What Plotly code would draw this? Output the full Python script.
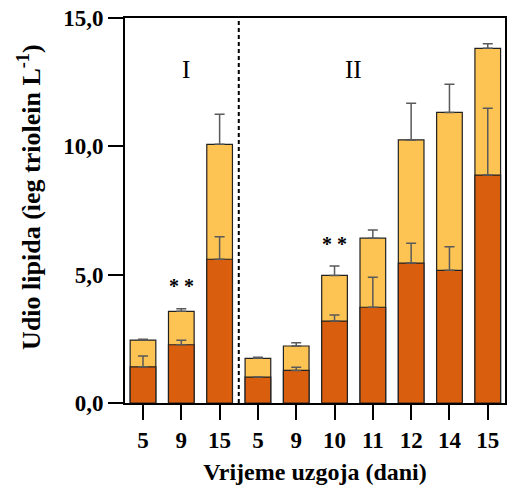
import plotly.graph_objects as go

# Kategorije (dani uzgoja), skupina I i II
dani = ['5', '9', '15', '5', '9', '10', '11', '12', '14', '15']
pozicije = list(range(len(dani)))

# Ukupni udio lipida (svijetli stupci) i pogreška
ukupno = [2.45, 3.57, 10.08, 1.74, 2.22, 4.97, 6.42, 10.25, 11.32, 13.82]
ukupno_err = [0.03, 0.10, 1.17, 0.04, 0.13, 0.37, 0.32, 1.43, 1.10, 0.18]

# Donji dio (tamni stupci) i pogreška
donji = [1.41, 2.27, 5.60, 1.01, 1.27, 3.19, 3.73, 5.45, 5.17, 8.88]
donji_err = [0.42, 0.17, 0.88, 0.0, 0.12, 0.24, 1.17, 0.77, 0.92, 2.60]

nula = [0] * len(dani)

ytick_vals = [0, 5, 10, 15]
ytick_text = ['0,0', '5,0', '10,0', '15,0']

serif = 'Liberation Serif'

fig = go.Figure()

fig.add_trace(go.Bar(
    x=pozicije,
    y=ukupno,
    width=0.67,
    marker=dict(color='#FDC353', line=dict(color='#222222', width=1.2)),
    error_y=dict(type='data', array=ukupno_err, arrayminus=nula, symmetric=False,
                 color='#5a5a5a', thickness=1.5, width=5),
    showlegend=False,
))

fig.add_trace(go.Bar(
    x=pozicije,
    y=donji,
    width=0.67,
    marker=dict(color='#D95F0E', line=dict(color='#222222', width=1.2)),
    error_y=dict(type='data', array=donji_err, arrayminus=nula, symmetric=False,
                 color='#5a5a5a', thickness=1.5, width=5),
    showlegend=False,
))

# isprekidana linija između skupina
fig.add_shape(type='line', xref='x', yref='y', x0=2.5, x1=2.5, y0=0, y1=15,
              line=dict(color='black', width=2, dash='4px,3px'))

fig.add_annotation(x=1.12, y=13.0, text='I', showarrow=False,
                   font=dict(family=serif, size=25, color='black'))
fig.add_annotation(x=5.5, y=13.0, text='II', showarrow=False,
                   font=dict(family=serif, size=25, color='black'))
fig.add_annotation(x=1, y=4.55, text='<b>* *</b>', showarrow=False,
                   font=dict(family=serif, size=20, color='black'))
fig.add_annotation(x=5, y=6.2, text='<b>* *</b>', showarrow=False,
                   font=dict(family=serif, size=20, color='black'))

# naslov osi y kao bilješka (za točniji položaj)
fig.add_annotation(xref='paper', yref='paper', x=-0.253, y=0.535,
                   text='<b>Udio lipida (ìeg triolein L<sup>-1</sup>)</b>',
                   textangle=-90, showarrow=False, xanchor='center', yanchor='middle',
                   font=dict(family=serif, size=26, color='black'))

fig.update_layout(
    width=509,
    height=492,
    barmode='overlay',
    plot_bgcolor='white',
    paper_bgcolor='white',
    font=dict(family=serif, size=20, color='black'),
    margin=dict(l=125, r=2, t=18, b=89),
)

fig.update_xaxes(
    range=[-0.47, 9.45],
    tickmode='array', tickvals=pozicije, ticktext=['<b>%s</b>' % d for d in dani],
    ticks='outside', ticklen=15, tickwidth=2, tickcolor='black',
    showline=True, linecolor='black', linewidth=2, mirror=True,
    showgrid=False, zeroline=False,
    tickfont=dict(family=serif, size=23, color='black'),
    title=dict(text='<b>Vrijeme uzgoja (dani)</b>', standoff=12,
               font=dict(family=serif, size=24, color='black')),
)

fig.update_yaxes(
    range=[0, 15],
    tickmode='array', tickvals=ytick_vals, ticktext=['<b>%s</b>' % t for t in ytick_text],
    ticks='outside', ticklen=15, tickwidth=2, tickcolor='black',
    showline=True, linecolor='black', linewidth=2, mirror=True,
    showgrid=False, zeroline=False,
    tickfont=dict(family=serif, size=23, color='black'),
)

fig.write_html('out.html', config={'displayModeBar': False},
               post_script="document.body.style.margin='0px';")
